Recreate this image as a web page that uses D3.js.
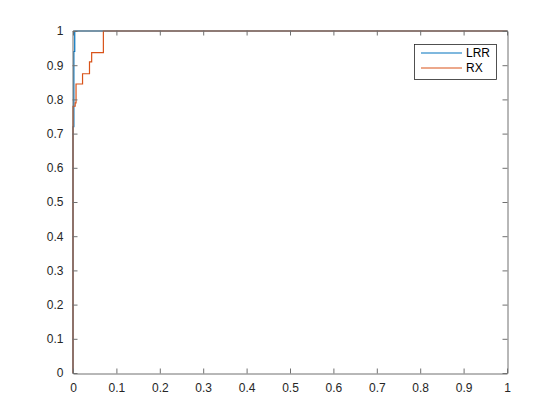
<html>
<head>
<meta charset="utf-8">
<script src="https://d3js.org/d3.v7.min.js"></script>
<style>
  body { margin: 0; background: #fff; }
  svg { font-family: Arial, "Liberation Sans", Helvetica, sans-serif; }
  .line { fill: none; stroke-width: 1.2; }
</style>
</head>
<body>
<div id="chart"></div>
<script>
// ROC curves
var lrrFpr = [0, 0, 0.002, 0.002, 0.004, 0.004, 1];
var lrrTpr = [0, 0.72, 0.72, 0.94, 0.94, 1, 1];

var rxFpr = [0, 0, 0.005, 0.005, 0.007, 0.007, 0.022, 0.022, 0.038, 0.038, 0.043, 0.043, 0.07, 0.07, 1];
var rxTpr = [0, 0.78, 0.78, 0.79, 0.79, 0.845, 0.845, 0.875, 0.875, 0.91, 0.91, 0.937, 0.937, 1, 1];

var seriesNames = ["LRR", "RX"];
var seriesColors = ["#0072BD", "#D95319"];
var xTicks = [0, 0.1, 0.2, 0.3, 0.4, 0.5, 0.6, 0.7, 0.8, 0.9, 1];
var yTicks = [0, 0.1, 0.2, 0.3, 0.4, 0.5, 0.6, 0.7, 0.8, 0.9, 1];

var width = 560, height = 420;
var plotLeft = 73, plotRight = 507, plotTop = 31, plotBottom = 373;
var axisColor = "#707070";
var tickLen = 5;

var svg = d3.select("#chart").append("svg")
    .attr("width", width)
    .attr("height", height);

var x = d3.scaleLinear().domain([0, 1]).range([plotLeft, plotRight]);
var y = d3.scaleLinear().domain([0, 1]).range([plotBottom, plotTop]);

var fmt = function(d) { return d === 0 || d === 1 ? String(d) : d3.format(".1f")(d); };

/* lines */
var data = [
    { name: seriesNames[0], values: lrrFpr.map((f, i) => [f, lrrTpr[i]]) },
    { name: seriesNames[1], values: rxFpr.map((f, i) => [f, rxTpr[i]]) }
];

var line = d3.line()
    .x(d => x(d[0]))
    .y(d => y(d[1]));

svg.append("g").selectAll("path")
    .data(data).enter()
    .append("path")
    .attr("class", "line")
    .attr("d", d => line(d.values))
    .style("stroke", (d, i) => seriesColors[i]);

/* axes, MATLAB style box with inward ticks */
var xAxis = d3.axisBottom(x).tickValues(xTicks).tickFormat(fmt).tickSizeInner(-tickLen).tickSizeOuter(0).tickPadding(10);
var yAxis = d3.axisLeft(y).tickValues(yTicks).tickFormat(fmt).tickSizeInner(-tickLen).tickSizeOuter(0).tickPadding(9);
var xTop = d3.axisTop(x).tickValues(xTicks).tickFormat("").tickSizeInner(-tickLen).tickSizeOuter(0);
var yRight = d3.axisRight(y).tickValues(yTicks).tickFormat("").tickSizeInner(-tickLen).tickSizeOuter(0);

var gx = svg.append("g").attr("transform", `translate(0, ${plotBottom + 0.5})`).call(xAxis);
var gy = svg.append("g").attr("transform", `translate(${plotLeft - 0.5}, 0)`).call(yAxis);
var gt = svg.append("g").attr("transform", `translate(0, ${plotTop - 0.5})`).call(xTop);
var gr = svg.append("g").attr("transform", `translate(${plotRight + 0.5}, 0)`).call(yRight);

[gx, gy, gt, gr].forEach(function(g) {
    g.select(".domain").attr("stroke", axisColor);
    g.selectAll(".tick line").attr("stroke", axisColor);
    g.selectAll(".tick text").attr("fill", "#262626").style("font-size", "12px");
});

/* legend */
var lg = svg.append("g");
lg.append("rect")
    .attr("x", 414.5).attr("y", 44.5)
    .attr("width", 82).attr("height", 35)
    .attr("fill", "#fff")
    .attr("stroke", "#262626")
    .attr("stroke-width", 0.8);

seriesNames.forEach(function(name, i) {
    var ly = 53 + i * 15;
    lg.append("line")
        .attr("x1", 421).attr("x2", 462)
        .attr("y1", ly).attr("y2", ly)
        .attr("stroke", seriesColors[i])
        .attr("stroke-width", 1.2);
    lg.append("text")
        .attr("x", 466).attr("y", ly)
        .attr("dy", "0.35em")
        .attr("fill", "#000")
        .style("font-size", "12px")
        .text(name);
});
</script>
</body>
</html>
